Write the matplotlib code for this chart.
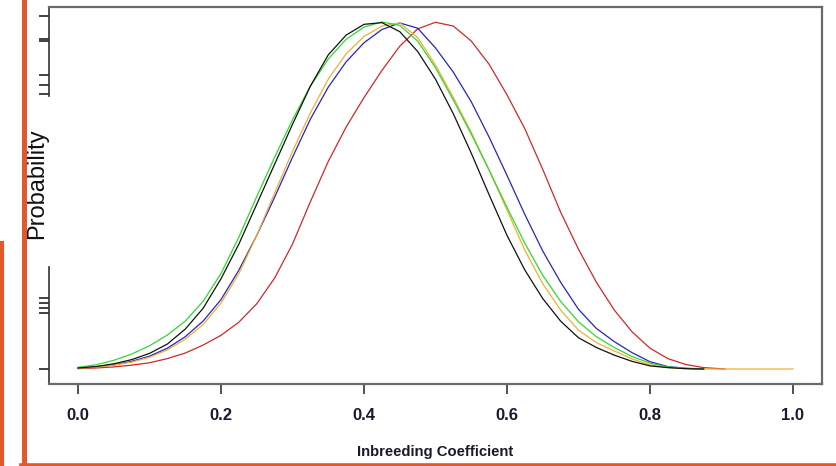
import matplotlib
matplotlib.use("Agg")
import matplotlib.pyplot as plt
from matplotlib.lines import Line2D

# ---- data ----
x_grid = [0.000, 0.025, 0.050, 0.075, 0.100, 0.125, 0.150, 0.175, 0.200, 0.225,
          0.250, 0.275, 0.300, 0.325, 0.350, 0.375, 0.400, 0.425, 0.450, 0.475,
          0.500, 0.525, 0.550, 0.575, 0.600, 0.625, 0.650, 0.675, 0.700, 0.725,
          0.750, 0.775, 0.800, 0.825, 0.850, 0.875]

black_y = [0.003, 0.007, 0.015, 0.027, 0.045, 0.072, 0.115, 0.175, 0.260, 0.360,
           0.475, 0.590, 0.705, 0.815, 0.905, 0.962, 0.993, 0.998, 0.972, 0.915,
           0.835, 0.735, 0.622, 0.502, 0.385, 0.285, 0.203, 0.138, 0.090, 0.062,
           0.040, 0.022, 0.009, 0.004, 0.001, 0.000]

green_y = [0.005, 0.012, 0.025, 0.043, 0.067, 0.098, 0.138, 0.195, 0.275, 0.380,
           0.497, 0.610, 0.718, 0.815, 0.893, 0.950, 0.985, 1.000, 0.990, 0.945,
           0.868, 0.775, 0.677, 0.573, 0.466, 0.362, 0.270, 0.195, 0.136, 0.093,
           0.062, 0.036, 0.017, 0.006, 0.002, 0.000]

yellow_y = [0.002, 0.005, 0.011, 0.020, 0.034, 0.055, 0.086, 0.128, 0.190, 0.275,
            0.385, 0.507, 0.627, 0.738, 0.835, 0.908, 0.958, 0.988, 0.997, 0.955,
            0.876, 0.782, 0.682, 0.573, 0.458, 0.342, 0.246, 0.170, 0.112, 0.076,
            0.052, 0.029, 0.012, 0.004, 0.001, 0.000]
yellow_tail_x = [0.900, 0.950, 1.000]
yellow_tail_y = [0.000, 0.000, 0.000]

blue_y = [0.002, 0.006, 0.012, 0.022, 0.037, 0.060, 0.093, 0.138, 0.200, 0.285,
          0.385, 0.495, 0.610, 0.720, 0.812, 0.885, 0.940, 0.978, 0.997, 0.982,
          0.925, 0.855, 0.770, 0.668, 0.558, 0.445, 0.340, 0.250, 0.172, 0.117,
          0.079, 0.047, 0.021, 0.007, 0.002, 0.000]

red_y = [0.001, 0.003, 0.006, 0.011, 0.018, 0.030, 0.046, 0.069, 0.097, 0.135,
         0.188, 0.262, 0.360, 0.482, 0.598, 0.697, 0.782, 0.860, 0.930, 0.980,
         0.999, 0.988, 0.945, 0.878, 0.790, 0.692, 0.575, 0.452, 0.345, 0.250,
         0.170, 0.107, 0.060, 0.030, 0.013, 0.004]
red_tail_x = [0.905]
red_tail_y = [0.000]

x_ticks = [0.0, 0.2, 0.4, 0.6, 0.8, 1.0]
x_tick_labels = ["0.0", "0.2", "0.4", "0.6", "0.8", "1.0"]
y_ticks = [1.017, 0.951, 0.945, 0.847, 0.818, 0.793, 0.205, 0.190, 0.176, 0.161, 0.0]

x_label = "Inbreeding Coefficient"
y_label = "Probability"

# ---- figure ----
W, H = 836, 466
fig = plt.figure(figsize=(W / 100, H / 100), dpi=100)
ax = fig.add_axes([49 / W, (H - 384) / H, 773 / W, 377 / H])

lw = 0.9
ax.plot(x_grid + red_tail_x, red_y + red_tail_y, color="#d02828", lw=lw)
ax.plot(x_grid, blue_y, color="#2424c8", lw=lw)
ax.plot(x_grid + yellow_tail_x, yellow_y + yellow_tail_y, color="#f0b030", lw=lw)
ax.plot(x_grid, green_y, color="#30d830", lw=lw)
ax.plot(x_grid, black_y, color="#111111", lw=lw)

x0, x1 = -0.0406, 1.0406
y0, y1 = -0.0432, 1.043
ax.set_xlim(x0, x1)
ax.set_ylim(y0, y1)

for s in ["top", "right", "bottom"]:
    ax.spines[s].set_color("#6a6a6a")
    ax.spines[s].set_linewidth(1.6)
ax.spines["left"].set_visible(False)
# broken left axis line
for (ya, yb) in [((384 - 96) / 377, 1.0), (0.0, (384 - 267) / 377)]:
    ax.add_line(Line2D([0, 0], [ya, yb], transform=ax.transAxes,
                       color="#333333", lw=1.2, clip_on=False))

ax.set_xticks(x_ticks)
ax.set_xticklabels(x_tick_labels, fontsize=12, fontfamily="Liberation Sans",
                   fontweight="bold", color="#1a1a2e")
ax.tick_params(axis="x", length=7, width=1.2, color="#333333", pad=10)
ax.set_yticks(y_ticks)
ax.set_yticklabels([])
ax.tick_params(axis="y", length=7.5, width=1.2, color="#222222")

fig.text(435 / W, 1 - 452 / H, x_label, ha="center", va="center",
         fontsize=10.7, fontfamily="Liberation Sans", fontweight="bold",
         color="#1a1a2e")
fig.text(37 / W, 1 - 184 / H, y_label, ha="center", va="center",
         rotation=90, fontsize=17, fontfamily="Liberation Sans", color="#111111")

# orange decorations around the picture
orange = "#e2572b"
fig.add_artist(Line2D([23.5 / W, 23.5 / W], [0, 1], transform=fig.transFigure,
                      color=orange, lw=3.6))
fig.add_artist(Line2D([1.5 / W, 1.5 / W], [0, 1 - 243 / H], transform=fig.transFigure,
                      color=orange, lw=3.0))
fig.add_artist(Line2D([21 / W, 1], [1 - 464.5 / H, 1 - 464.5 / H],
                      transform=fig.transFigure, color=orange, lw=2.6))

fig.savefig("out.png", dpi=100)
